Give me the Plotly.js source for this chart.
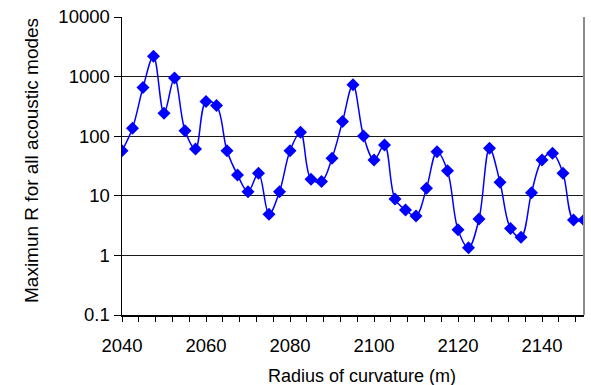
<!DOCTYPE html>
<html>
<head>
<meta charset="utf-8">
<script src="https://cdn.plot.ly/plotly-3.0.1.min.js"></script>
<style>
  html, body { margin: 0; padding: 0; background: #fff; }
  #chart { width: 591px; height: 385px; }
</style>
</head>
<body>
<div id="chart"></div>
<script>
// Radius of curvature (m), sampled every 2.5 m
const radius = [
  2040, 2042.5, 2045, 2047.5, 2050, 2052.5, 2055, 2057.5, 2060, 2062.5,
  2065, 2067.5, 2070, 2072.5, 2075, 2077.5, 2080, 2082.5, 2085, 2087.5,
  2090, 2092.5, 2095, 2097.5, 2100, 2102.5, 2105, 2107.5, 2110, 2112.5,
  2115, 2117.5, 2120, 2122.5, 2125, 2127.5, 2130, 2132.5, 2135, 2137.5,
  2140, 2142.5, 2145, 2147.5, 2150
];

// Maximum R over all acoustic modes at each radius
const maxR = [
  57, 136, 656, 2200, 243, 944, 124, 61, 382, 327,
  57, 22.4, 11.7, 23.9, 4.9, 11.7, 57, 117, 18.9, 17.3,
  42.7, 176, 728, 101, 40, 71, 8.8, 5.8, 4.6, 13.4,
  55, 26.4, 2.7, 1.34, 4.07, 63, 16.9, 2.84, 2.01, 11.3,
  40, 51.8, 23.9, 3.92, 3.92
];

// Axis tick labels and titles
const yTickVals = [0.1, 1, 10, 100, 1000, 10000];
const yTickText = ["0.1", "1", "10", "100", "1000", "10000"];
const xTitle = "Radius of curvature (m)";
const yTitle = "Maximun R for all acoustic modes";

const font = "Liberation Sans, Arial, sans-serif";

const trace = {
  x: radius,
  y: maxR,
  type: "scatter",
  mode: "lines+markers",
  line: { color: "#0000FF", width: 1.5, shape: "spline", smoothing: 1 },
  marker: { symbol: "diamond", size: 10, color: "#0000FF" },
  hoverinfo: "x+y"
};

const layout = {
  width: 591,
  height: 385,
  margin: { l: 122, r: 7, t: 17, b: 70 },
  paper_bgcolor: "#ffffff",
  plot_bgcolor: "#ffffff",
  showlegend: false,
  font: { family: font, size: 18, color: "#000" },
  xaxis: {
    range: [2040, 2150],
    tick0: 2040,
    dtick: 20,
    ticks: "outside",
    ticklen: 5,
    tickcolor: "#000",
    ticklabelstandoff: 8,
    showgrid: false,
    zeroline: false,
    showline: true,
    linecolor: "#000",
    linewidth: 1.5,
    tickfont: { family: font, size: 18.5, color: "#000" },
    minor: { dtick: 4, tick0: 2040, ticks: "outside", ticklen: 5, tickcolor: "#000", showgrid: false }
  },
  yaxis: {
    type: "log",
    range: [-1, 4],
    tickvals: yTickVals,
    ticktext: yTickText,
    ticks: "outside",
    ticklen: 7,
    tickcolor: "#000",
    showgrid: true,
    gridcolor: "#1a1a1a",
    gridwidth: 1,
    zeroline: false,
    showline: true,
    linecolor: "#000",
    linewidth: 1.5,
    tickfont: { family: font, size: 18.5, color: "#000" }
  },
  annotations: [
    { text: xTitle, xref: "paper", yref: "paper", x: 0.5, y: 0, xanchor: "center", yanchor: "middle",
      xshift: 9, yshift: -61, showarrow: false, font: { family: font, size: 18, color: "#000" } },
    { text: yTitle, xref: "paper", yref: "paper", x: 0, y: 0.5, xanchor: "center", yanchor: "middle",
      xshift: -91, yshift: 5, textangle: -90, showarrow: false, font: { family: font, size: 19, color: "#000" } }
  ],
  shapes: [
    { type: "line", xref: "paper", yref: "paper", x0: 1, x1: 1, y0: 0, y1: 1,
      line: { color: "#8c8c8c", width: 2 } }
  ]
};

Plotly.newPlot("chart", [trace], layout, { displayModeBar: false, staticPlot: true });
</script>
</body>
</html>
